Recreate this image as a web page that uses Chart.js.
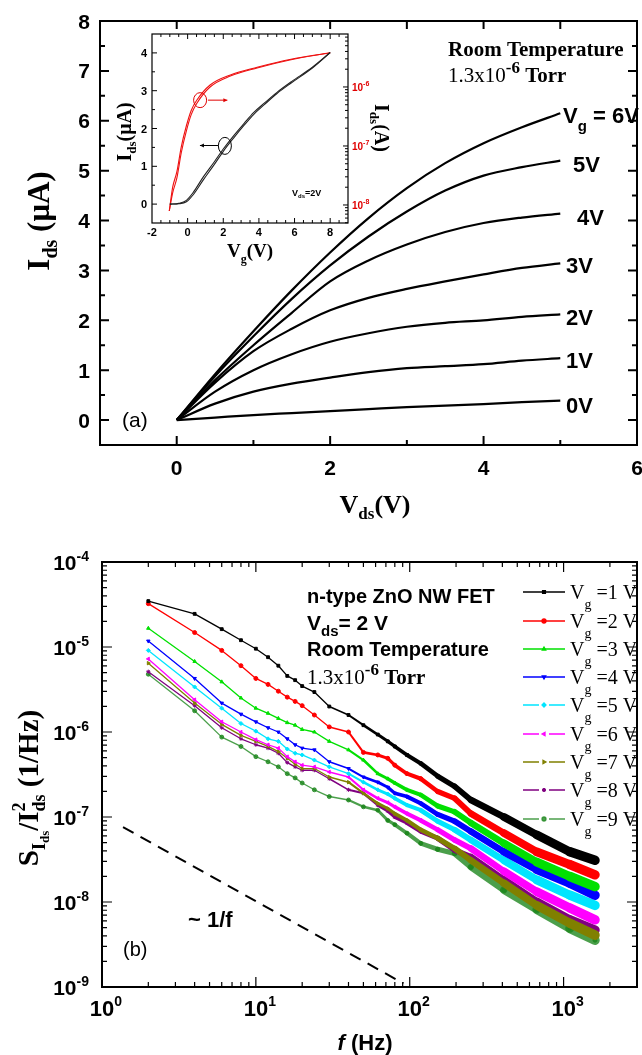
<!DOCTYPE html>
<html>
<head>
<meta charset="utf-8">
<script src="https://cdn.jsdelivr.net/npm/chart.js@4.4.0/dist/chart.umd.min.js"></script>
<style>
  body { margin: 0; background: #fff; }
  #wrap { position: relative; width: 642px; height: 1055px; overflow: hidden; }
  canvas { position: absolute; }
</style>
</head>
<body>
<div id="wrap">
  <canvas id="chartA" width="642" height="520" style="left:0;top:0"></canvas>
  <canvas id="inset" width="300" height="250" style="left:100px;top:22px"></canvas>
  <canvas id="chartB" width="642" height="535" style="left:0;top:520px"></canvas>
</div>
<script>
// ---- (a) output curves, Ids (uA) vs Vds (V) ----
const vds = [0, 0.5, 1, 1.5, 2, 2.5, 3, 3.5, 4, 4.5, 5];
const idsVg0 = [0, 0.05, 0.10, 0.14, 0.18, 0.22, 0.26, 0.29, 0.32, 0.36, 0.39];
const idsVg1 = [0, 0.33, 0.57, 0.73, 0.85, 0.96, 1.04, 1.08, 1.12, 1.19, 1.24];
const idsVg2 = [0, 0.57, 1.00, 1.32, 1.57, 1.74, 1.87, 1.95, 2.00, 2.07, 2.12];
const idsVg3 = [0, 0.75, 1.38, 1.83, 2.20, 2.45, 2.63, 2.78, 2.92, 3.05, 3.14];
const idsVg4 = [0, 0.80, 1.50, 2.15, 2.78, 3.20, 3.52, 3.77, 3.95, 4.06, 4.14];
const idsVg5 = [0, 0.88, 1.68, 2.43, 3.10, 3.68, 4.18, 4.60, 4.90, 5.07, 5.20];
const idsVg6 = [0, 0.92, 1.78, 2.60, 3.36, 4.05, 4.65, 5.15, 5.55, 5.87, 6.15];
const curveLabels = ['0V', '1V', '2V', '3V', '4V', '5V', '6V'];
const ticksAx = [0, 2, 4, 6];
const ticksAy = [0, 1, 2, 3, 4, 5, 6, 7, 8];

// ---- inset, transfer curve at Vds = 2 V ----
const vgLin = [-1.0, -0.5, -0.07, 0.3, 0.88, 1.5, 2.02, 2.6, 3.16, 3.7, 4.3, 5.0, 5.83, 7.0, 8.0];
const idsLinFwd = [0, 0.02, 0.10, 0.30, 0.72, 1.12, 1.47, 1.82, 2.13, 2.42, 2.67, 2.95, 3.24, 3.62, 4.01];
const idsLinRev = [0, 0.01, 0.06, 0.24, 0.64, 1.05, 1.41, 1.76, 2.08, 2.37, 2.63, 2.92, 3.21, 3.60, 4.01];
const vgLog = [-1.03, -0.84, -0.6, -0.36, -0.07, 0.2, 0.5, 1.26, 2.4, 3.9, 5.8, 8.0];
const idsLogFwd = [7.9e-9, 1.6e-8, 2.9e-8, 7.6e-8, 1.8e-7, 3.4e-7, 5.2e-7, 1.0e-6, 1.53e-6, 2.1e-6, 2.9e-6, 3.8e-6];
const idsLogRev = [7.9e-9, 2.0e-8, 3.7e-8, 9.6e-8, 2.2e-7, 4.0e-7, 5.9e-7, 1.08e-6, 1.6e-6, 2.16e-6, 2.95e-6, 3.8e-6];
const ticksInsetX = [-2, 0, 2, 4, 6, 8];
const ticksInsetY = [0, 1, 2, 3, 4];
const ticksInsetLogExp = [-8, -7, -6];

// ---- (b) noise spectra, log10(S/I^2) vs f (Hz) ----
const freq = [2, 4, 6, 8, 10, 12, 14, 16, 18, 20, 24, 30, 40, 50, 62, 72, 80, 96, 118, 152, 196, 250, 410, 670, 1100, 1600];
const logSvg1 = [-4.46, -4.61, -4.79, -4.92, -5.02, -5.12, -5.22, -5.34, -5.39, -5.46, -5.53, -5.70, -5.80, -5.92, -6.03, -6.11, -6.17, -6.27, -6.37, -6.52, -6.64, -6.80, -7.00, -7.21, -7.41, -7.51];
const logSvg2 = [-4.49, -4.83, -5.04, -5.22, -5.37, -5.44, -5.52, -5.59, -5.64, -5.69, -5.80, -5.94, -6.00, -6.24, -6.27, -6.31, -6.39, -6.49, -6.55, -6.70, -6.78, -6.96, -7.19, -7.41, -7.56, -7.68];
const logSvg3 = [-4.78, -5.17, -5.41, -5.60, -5.72, -5.78, -5.84, -5.89, -5.92, -5.97, -6.00, -6.11, -6.21, -6.33, -6.49, -6.55, -6.60, -6.68, -6.74, -6.87, -6.94, -7.07, -7.31, -7.53, -7.70, -7.82];
const logSvg4 = [-4.93, -5.37, -5.66, -5.79, -5.88, -5.95, -6.00, -6.08, -6.15, -6.19, -6.21, -6.35, -6.43, -6.53, -6.59, -6.65, -6.72, -6.76, -6.84, -6.97, -7.05, -7.17, -7.41, -7.62, -7.78, -7.92];
const logSvg5 = [-5.04, -5.47, -5.72, -5.90, -5.99, -6.08, -6.11, -6.20, -6.25, -6.27, -6.33, -6.41, -6.49, -6.59, -6.68, -6.73, -6.78, -6.86, -6.92, -7.05, -7.15, -7.27, -7.51, -7.74, -7.92, -8.04];
const logSvg6 = [-5.14, -5.62, -5.88, -6.00, -6.09, -6.15, -6.19, -6.29, -6.35, -6.39, -6.41, -6.47, -6.53, -6.68, -6.78, -6.83, -6.88, -6.96, -7.04, -7.15, -7.27, -7.37, -7.64, -7.88, -8.07, -8.21];
const logSvg7 = [-5.19, -5.66, -5.91, -6.04, -6.11, -6.17, -6.23, -6.31, -6.38, -6.43, -6.43, -6.53, -6.59, -6.72, -6.84, -6.90, -6.96, -7.04, -7.15, -7.25, -7.37, -7.51, -7.78, -8.04, -8.25, -8.39];
const logSvg8 = [-5.29, -5.69, -5.95, -6.08, -6.15, -6.19, -6.25, -6.36, -6.41, -6.45, -6.45, -6.55, -6.68, -6.72, -6.86, -6.93, -7.00, -7.07, -7.17, -7.25, -7.39, -7.47, -7.74, -8.00, -8.21, -8.33];
const logSvg9 = [-5.32, -5.75, -6.06, -6.17, -6.29, -6.35, -6.41, -6.49, -6.54, -6.60, -6.68, -6.76, -6.80, -6.88, -6.92, -7.04, -7.09, -7.19, -7.31, -7.38, -7.43, -7.59, -7.86, -8.09, -8.31, -8.45];
const gateVolts = ['1', '2', '3', '4', '5', '6', '7', '8', '9'];
const refFreq = [1.37, 91];      // dashed ~1/f guide
const refS = [7.6e-8, 1.1e-9];
const ticksBxExp = [0, 1, 2, 3];
const ticksByExp = [-9, -8, -7, -6, -5, -4];

const SANS = '"Liberation Sans", Arial, sans-serif';
const SERIF = '"Liberation Serif", "Times New Roman", serif';

// draws a run of text pieces (sub/superscripts) from a baseline point
function richText(ctx, x, y, parts, align, rot) {
    ctx.save();
    ctx.translate(x, y);
    if (rot) ctx.rotate(rot);
    ctx.textBaseline = 'alphabetic';
    ctx.textAlign = 'left';
    let total = 0;
    parts.forEach(p => {
        ctx.font = p.font;
        p.w = ctx.measureText(p.t).width;
        if (!p.stack) total += p.w;
    });
    let cx = align === 'center' ? -total / 2 : align === 'right' ? -total : 0;
    parts.forEach(p => {
        ctx.font = p.font;
        ctx.fillStyle = p.color || '#000';
        ctx.fillText(p.t, cx, p.dy || 0);
        if (!p.stack) cx += p.w;
    });
    ctx.restore();
}

function logMinors(minExp, maxExp, lo, hi) {
    const out = [];
    for (let e = minExp; e <= maxExp; e++) {
        for (let m = 2; m <= 9; m++) {
            const v = m * Math.pow(10, e);
            if (v > lo && v < hi) out.push(v);
        }
    }
    return out;
}

// ---------- (a) ----------
const frameA = {
    id: 'frameA',
    afterDraw(chart) {
        const { ctx, chartArea: a, scales: { x, y } } = chart;
        ctx.save();
        ctx.strokeStyle = '#000';
        ctx.lineWidth = 2;
        ctx.strokeRect(a.left, a.top, a.right - a.left, a.bottom - a.top);
        ctx.beginPath();
        for (let v = 0; v <= 5; v++) {
            const px = x.getPixelForValue(v);
            const len = v % 2 === 0 ? 9 : 5;
            ctx.moveTo(px, a.bottom); ctx.lineTo(px, a.bottom - len);
            ctx.moveTo(px, a.top); ctx.lineTo(px, a.top + 8);
        }
        for (let v = 0; v <= 7.5; v += 0.5) {
            const py = y.getPixelForValue(v);
            const len = Number.isInteger(v) ? 9 : 5;
            ctx.moveTo(a.left, py); ctx.lineTo(a.left + len, py);
            ctx.moveTo(a.right, py); ctx.lineTo(a.right - len, py);
        }
        ctx.stroke();

        ctx.fillStyle = '#000';
        ctx.font = `bold 21px ${SANS}`;
        ctx.textAlign = 'center';
        ticksAx.forEach(v => ctx.fillText(String(v), x.getPixelForValue(v), 475));
        ctx.textAlign = 'right';
        ticksAy.forEach(v => ctx.fillText(String(v), 90, y.getPixelForValue(v) + 7.5));

        // axis titles
        richText(ctx, 375, 513, [
            { t: 'V', font: `bold 26px ${SERIF}` },
            { t: 'ds', font: `bold 17px ${SERIF}`, dy: 6 },
            { t: '(V)', font: `bold 26px ${SERIF}` }
        ], 'center');
        richText(ctx, 49, 221, [
            { t: 'I', font: `bold 31px ${SERIF}` },
            { t: 'ds', font: `bold 20px ${SERIF}`, dy: 8 },
            { t: ' (\u03bcA)', font: `bold 31px ${SERIF}` }
        ], 'center', -Math.PI / 2);

        // curve labels
        const lblX = [566, 566, 566, 566, 577, 573];
        const lblY = [413, 368, 325, 273, 225, 172];
        ctx.font = `bold 22px ${SANS}`;
        ctx.textAlign = 'left';
        for (let i = 0; i < 6; i++) ctx.fillText(curveLabels[i], lblX[i], lblY[i]);
        richText(ctx, 563, 123, [
            { t: 'V', font: `bold 22px ${SANS}` },
            { t: 'g', font: `bold 15px ${SANS}`, dy: 8 },
            { t: ' = ' + curveLabels[6], font: `bold 22px ${SANS}` }
        ], 'left');

        ctx.font = `21px ${SANS}`;
        ctx.fillText('(a)', 122, 427);
        ctx.font = `bold 21px ${SERIF}`;
        ctx.fillText('Room Temperature', 448, 56);
        richText(ctx, 448, 82, [
            { t: '1.3x10', font: `21px ${SERIF}` },
            { t: '-6', font: `bold 17px ${SERIF}`, dy: -9 },
            { t: ' Torr', font: `bold 21px ${SERIF}` }
        ], 'left');
        ctx.restore();
    }
};

const seriesA = [idsVg0, idsVg1, idsVg2, idsVg3, idsVg4, idsVg5, idsVg6];
new Chart(document.getElementById('chartA'), {
    type: 'line',
    data: {
        datasets: seriesA.map(arr => ({
            data: vds.map((v, i) => ({ x: v, y: arr[i] })),
            borderColor: '#000',
            borderWidth: 2.2,
            pointRadius: 0,
            cubicInterpolationMode: 'monotone',
            fill: false
        }))
    },
    options: {
        responsive: false,
        animation: false,
        events: [],
        layout: { padding: { left: 100, top: 21, right: 5, bottom: 75 } },
        scales: {
            x: { type: 'linear', min: -1, max: 6, display: false },
            y: { type: 'linear', min: -0.5, max: 8, display: false }
        },
        plugins: { legend: { display: false }, tooltip: { enabled: false } }
    },
    plugins: [frameA]
});

// ---------- inset ----------
function arrow(ctx, x1, y1, x2, y2) {
    ctx.beginPath();
    ctx.moveTo(x1, y1); ctx.lineTo(x2, y2);
    ctx.stroke();
    const d = Math.sign(x2 - x1);
    ctx.beginPath();
    ctx.moveTo(x2, y2); ctx.lineTo(x2 - d * 4, y2 - 2); ctx.lineTo(x2 - d * 4, y2 + 2);
    ctx.closePath();
    ctx.fill();
}

const frameInset = {
    id: 'frameInset',
    afterDraw(chart) {
        const { ctx, chartArea: a, scales: { x, y, yR } } = chart;
        ctx.save();
        ctx.strokeStyle = '#000';
        ctx.lineWidth = 1.2;
        ctx.strokeRect(a.left, a.top, a.right - a.left, a.bottom - a.top);
        ctx.lineWidth = 1;
        ctx.beginPath();
        for (let v = -1.5; v <= 8.5; v += 0.5) {
            const px = x.getPixelForValue(v);
            const len = v % 2 === 0 ? 5 : 3;
            ctx.moveTo(px, a.bottom); ctx.lineTo(px, a.bottom - len);
            ctx.moveTo(px, a.top); ctx.lineTo(px, a.top + len);
        }
        for (let v = 0; v <= 4; v += 0.5) {
            const py = y.getPixelForValue(v);
            const len = Number.isInteger(v) ? 5 : 3;
            ctx.moveTo(a.left, py); ctx.lineTo(a.left + len, py);
        }
        ticksInsetLogExp.forEach(e => {
            const py = yR.getPixelForValue(Math.pow(10, e));
            ctx.moveTo(a.right, py); ctx.lineTo(a.right - 5, py);
        });
        logMinors(-9, -6, yR.min, yR.max).forEach(v => {
            const py = yR.getPixelForValue(v);
            ctx.moveTo(a.right, py); ctx.lineTo(a.right - 3, py);
        });
        ctx.stroke();

        ctx.fillStyle = '#000';
        ctx.font = `bold 11px ${SANS}`;
        ctx.textAlign = 'center';
        ticksInsetX.forEach(v => ctx.fillText(String(v), x.getPixelForValue(v), 214));
        ctx.textAlign = 'right';
        ticksInsetY.forEach(v => ctx.fillText(String(v), 47, y.getPixelForValue(v) + 4));
        ticksInsetLogExp.forEach(e => {
            richText(ctx, 252, yR.getPixelForValue(Math.pow(10, e)) + 4, [
                { t: '10', font: `bold 10px ${SANS}`, color: '#e00000' },
                { t: String(e), font: `bold 7px ${SANS}`, dy: -5, color: '#e00000' }
            ], 'left');
        });

        richText(ctx, 31, 110, [
            { t: 'I', font: `bold 20px ${SERIF}` },
            { t: 'ds', font: `bold 13px ${SERIF}`, dy: 5 },
            { t: '(\u03bcA)', font: `bold 20px ${SERIF}` }
        ], 'center', -Math.PI / 2);
        richText(ctx, 150, 235, [
            { t: 'V', font: `bold 19px ${SERIF}` },
            { t: 'g', font: `bold 12px ${SERIF}`, dy: 6 },
            { t: '(V)', font: `bold 19px ${SERIF}` }
        ], 'center');
        richText(ctx, 275, 106, [
            { t: 'I', font: `bold 20px ${SERIF}` },
            { t: 'ds', font: `bold 13px ${SERIF}`, dy: 5 },
            { t: '(A)', font: `bold 20px ${SERIF}` }
        ], 'center', Math.PI / 2);
        richText(ctx, 192, 174, [
            { t: 'V', font: `bold 9px ${SANS}` },
            { t: 'ds', font: `bold 6px ${SANS}`, dy: 2 },
            { t: '=2V', font: `bold 9px ${SANS}` }
        ], 'left');

        // circles and arrows marking which axis each curve uses
        ctx.lineWidth = 1;
        ctx.strokeStyle = '#e00000'; ctx.fillStyle = '#e00000';
        ctx.beginPath();
        ctx.ellipse(x.getPixelForValue(0.7), y.getPixelForValue(2.75), 6.5, 7.5, 0, 0, Math.PI * 2);
        ctx.stroke();
        arrow(ctx, x.getPixelForValue(1.14), y.getPixelForValue(2.75), x.getPixelForValue(2.23), y.getPixelForValue(2.75));
        ctx.strokeStyle = '#000'; ctx.fillStyle = '#000';
        ctx.beginPath();
        ctx.ellipse(x.getPixelForValue(2.09), y.getPixelForValue(1.54), 6.5, 8.5, 0, 0, Math.PI * 2);
        ctx.stroke();
        arrow(ctx, x.getPixelForValue(1.71), y.getPixelForValue(1.55), x.getPixelForValue(0.69), y.getPixelForValue(1.55));
        ctx.restore();
    }
};

const lineSet = (xs, ys, color, axis) => ({
    data: xs.map((v, i) => ({ x: v, y: ys[i] })),
    borderColor: color,
    borderWidth: 1.1,
    pointRadius: 0,
    cubicInterpolationMode: 'monotone',
    yAxisID: axis,
    fill: false
});

new Chart(document.getElementById('inset'), {
    type: 'line',
    data: {
        datasets: [
            lineSet(vgLin, idsLinFwd, '#222', 'y'),
            lineSet(vgLin, idsLinRev, '#222', 'y'),
            lineSet(vgLog, idsLogFwd, '#ee1111', 'yR'),
            lineSet(vgLog, idsLogRev, '#ee1111', 'yR')
        ]
    },
    options: {
        responsive: false,
        animation: false,
        events: [],
        layout: { padding: { left: 52, top: 12, right: 52, bottom: 49 } },
        scales: {
            x: { type: 'linear', min: -2, max: 9, display: false },
            y: { type: 'linear', min: -0.5, max: 4.5, display: false },
            yR: { type: 'logarithmic', position: 'right', min: 4.95e-9, max: 7.9e-6, display: false }
        },
        plugins: { legend: { display: false }, tooltip: { enabled: false } }
    },
    plugins: [frameInset]
});

// ---------- (b) ----------
const seriesB = [logSvg1, logSvg2, logSvg3, logSvg4, logSvg5, logSvg6, logSvg7, logSvg8, logSvg9];
const colorsB = ['#000000', '#ff0000', '#00e000', '#0000ff', '#00e5ff', '#ff00ff', '#808000', '#800080', 'rgba(30,135,30,0.8)'];
const markersB = ['rect', 'circle', 'triangle', 'triangle', 'rectRot', 'triangle', 'triangle', 'star', 'circle'];
const markerRotB = [0, 0, 0, 180, 0, -90, 90, 0, 0];

// the dense spectra form a noisy band that gets wider with frequency
function bandWidth(ctx) {
    const f = Math.sqrt(ctx.p0.parsed.x * ctx.p1.parsed.x);
    if (f < 28) return 1.3;
    return Math.min(9.5, 1.3 + 5.3 * (Math.log10(f) - 1.5));
}

const frameB = {
    id: 'frameB',
    afterDraw(chart) {
        const { ctx, chartArea: a, scales: { x, y } } = chart;
        ctx.save();
        ctx.strokeStyle = '#000';
        ctx.lineWidth = 2;
        ctx.strokeRect(a.left, a.top, a.right - a.left, a.bottom - a.top);
        ctx.lineWidth = 1.2;
        ctx.beginPath();
        ticksBxExp.forEach(e => {
            const px = x.getPixelForValue(Math.pow(10, e));
            ctx.moveTo(px, a.bottom); ctx.lineTo(px, a.bottom - 10);
            ctx.moveTo(px, a.top); ctx.lineTo(px, a.top + 10);
        });
        logMinors(0, 3, x.min, x.max).forEach(v => {
            const px = x.getPixelForValue(v);
            ctx.moveTo(px, a.bottom); ctx.lineTo(px, a.bottom - 5);
            ctx.moveTo(px, a.top); ctx.lineTo(px, a.top + 5);
        });
        ticksByExp.forEach(e => {
            const py = y.getPixelForValue(Math.pow(10, e));
            ctx.moveTo(a.left, py); ctx.lineTo(a.left + 10, py);
            ctx.moveTo(a.right, py); ctx.lineTo(a.right - 10, py);
        });
        logMinors(-9, -5, y.min, y.max).forEach(v => {
            const py = y.getPixelForValue(v);
            ctx.moveTo(a.left, py); ctx.lineTo(a.left + 5, py);
            ctx.moveTo(a.right, py); ctx.lineTo(a.right - 5, py);
        });
        ctx.stroke();

        ticksByExp.forEach(e => {
            richText(ctx, 89, y.getPixelForValue(Math.pow(10, e)) + 8, [
                { t: '10', font: `bold 21px ${SANS}` },
                { t: String(e), font: `bold 14px ${SANS}`, dy: -9 }
            ], 'right');
        });
        ticksBxExp.forEach(e => {
            richText(ctx, x.getPixelForValue(Math.pow(10, e)) + 4, 496, [
                { t: '10', font: `bold 22px ${SANS}` },
                { t: String(e), font: `bold 14px ${SANS}`, dy: -10 }
            ], 'center');
        });

        richText(ctx, 365, 530, [
            { t: 'f', font: `italic bold 22px ${SANS}` },
            { t: ' (Hz)', font: `bold 22px ${SANS}` }
        ], 'center');
        richText(ctx, 38, 268, [
            { t: 'S', font: `bold 29px ${SERIF}` },
            { t: 'I', font: `bold 18px ${SERIF}`, dy: 7 },
            { t: 'ds', font: `bold 13px ${SERIF}`, dy: 11 },
            { t: '/I', font: `bold 29px ${SERIF}` },
            { t: '2', font: `bold 18px ${SERIF}`, dy: -13, stack: true },
            { t: 'ds', font: `bold 18px ${SERIF}`, dy: 7 },
            { t: ' (1/Hz)', font: `bold 29px ${SERIF}` }
        ], 'center', -Math.PI / 2);

        // annotations
        ctx.fillStyle = '#000';
        ctx.textAlign = 'left';
        ctx.font = `bold 20px ${SANS}`;
        ctx.fillText('n-type ZnO NW FET', 307, 83);
        richText(ctx, 307, 110, [
            { t: 'V', font: `bold 21px ${SANS}` },
            { t: 'ds', font: `bold 15px ${SANS}`, dy: 6 },
            { t: '= 2 V', font: `bold 21px ${SANS}` }
        ], 'left');
        ctx.font = `bold 20px ${SANS}`;
        ctx.fillText('Room Temperature', 307, 136);
        richText(ctx, 307, 164, [
            { t: '1.3x10', font: `21px ${SERIF}` },
            { t: '-6', font: `bold 17px ${SERIF}`, dy: -9 },
            { t: ' Torr', font: `bold 21px ${SERIF}` }
        ], 'left');
        ctx.font = `bold 22px ${SANS}`;
        ctx.fillText('~ 1/f', 188, 407);
        ctx.font = `20px ${SANS}`;
        ctx.fillText('(b)', 123, 436);

        // legend
        const rowY = [72, 101, 129, 157, 185, 214, 242, 270, 299];
        gateVolts.forEach((v, i) => {
            const cy = rowY[i];
            ctx.strokeStyle = colorsB[i];
            ctx.fillStyle = colorsB[i];
            ctx.lineWidth = 1.3;
            ctx.beginPath();
            if (i < 4) {
                ctx.moveTo(523, cy); ctx.lineTo(565, cy);
            } else {
                ctx.moveTo(523, cy); ctx.lineTo(539, cy);
                ctx.moveTo(549, cy); ctx.lineTo(565, cy);
            }
            ctx.stroke();
            Chart.helpers.drawPoint(ctx, { pointStyle: markersB[i], radius: 2, rotation: markerRotB[i], borderWidth: 1 }, 544, cy);
            richText(ctx, 570, cy + 7, [
                { t: 'V', font: `20px ${SERIF}` },
                { t: 'g', font: `14px ${SERIF}`, dy: 10 },
                { t: ' =' + v + ' V', font: `20px ${SERIF}` }
            ], 'left');
        });
        ctx.restore();
    }
};

const datasetsB = seriesB.map((arr, i) => ({
    data: freq.map((f, k) => ({ x: f, y: Math.pow(10, arr[k]) })),
    borderColor: colorsB[i],
    backgroundColor: colorsB[i],
    borderWidth: 1.3,
    borderCapStyle: 'round',
    borderJoinStyle: 'round',
    pointStyle: markersB[i],
    pointRotation: markerRotB[i],
    pointRadius: 2,
    pointBorderWidth: 1,
    segment: { borderWidth: bandWidth },
    fill: false
}));
datasetsB.push({
    data: refFreq.map((f, k) => ({ x: f, y: refS[k] })),
    borderColor: '#000',
    borderWidth: 2,
    borderDash: [12, 8],
    pointRadius: 0,
    fill: false
});

new Chart(document.getElementById('chartB'), {
    type: 'line',
    data: { datasets: datasetsB },
    options: {
        responsive: false,
        animation: false,
        events: [],
        layout: { padding: { left: 102, top: 42, right: 1, bottom: 68 } },
        scales: {
            x: { type: 'logarithmic', min: 1, max: 3000, display: false },
            y: { type: 'logarithmic', min: 1e-9, max: 1e-4, display: false }
        },
        plugins: { legend: { display: false }, tooltip: { enabled: false } }
    },
    plugins: [frameB]
});
</script>
</body>
</html>
